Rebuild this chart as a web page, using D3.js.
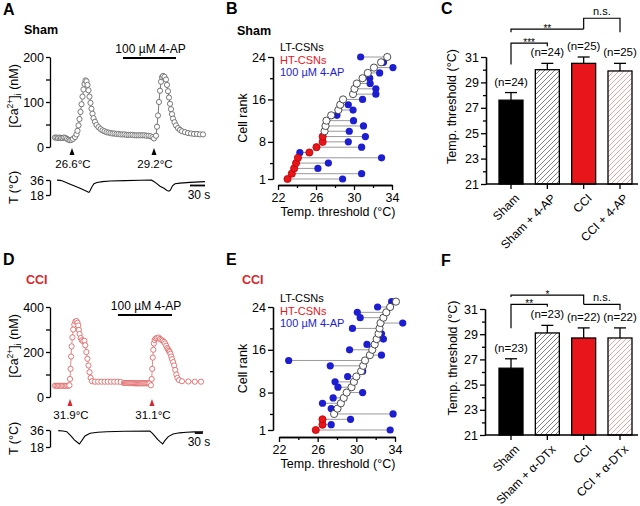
<!DOCTYPE html>
<html>
<head>
<meta charset="utf-8">
<script src="https://cdn.jsdelivr.net/npm/d3@7"></script>
<style>
  body { margin: 0; background: #fff; }
</style>
</head>
<body>
<script>
// ---------- data ----------
// panel A: [Ca2+]i trace, sham cell  [time s, nM]
var caA = [[0,21],[3,21],[6,20],[9,21],[12,20],[15,20],[18,21],[21,20],[24,18],[27,16],[30,15],[33,16],[36,18],
  [40,22],[43,28],[45,36],[47,48],[49,62],[51,78],[53,95],[55,112],[57,128],[59,140],[61,148],
  [63,146],[65,138],[67,126],[69,112],[71,98],[73,85],[75,74],[77,64],[80,56],[83,49],[87,44],[91,40],[95,37],
  [99,35],[103,33],[107,32],[111,31],[115,30],[119,30],[123,29],[127,29],[131,28],[135,28],[139,28],[143,27],
  [147,27],[151,27],[155,27],[159,26],[163,26],[167,26],[171,26],[175,26],[179,26],[183,25],[187,25],[191,24],
  [195,22],[198,19],
  [202,25],[204,45],[206,70],[208,100],[210,125],[212,145],[214,155],[216,158],[219,156],[222,150],[224,138],
  [226,124],[228,110],[230,96],[232,84],[234,73],[236,63],[239,55],[242,48],[246,42],[250,38],[254,35],[260,33],
  [266,31],[272,30],[278,29],[284,29],[290,28],[296,28]];
// panel A: bath temperature [time s, degC]
var tempA = [[4,35.8],[10,35.5],[14,35],[20,33.5],[28,31.5],[38,29],[50,26],[60,23.5],[66,21.5],[68,21.2],
  [70,23],[74,28],[78,31.5],[84,33],[95,34],[110,34.8],[140,35.3],[170,35.7],[193,35.8],[197,34.5],[203,32],
  [210,28.5],[218,26],[224,23.5],[228,22.6],[231,24],[235,29],[240,31.5],[250,32.3],[270,33.2],[290,33.8],[300,34]];
var thrTimeA = [34, 198];
var thrLabelA = ["26.6°C", "29.2°C"];
var apTimeA = [136, 242];

// panel D: [Ca2+]i trace, CCI cell
var caD = [[0,50],[5,50],[10,49],[15,50],[20,50],[25,49],[30,50],[35,50],[40,49],[45,50],[50,50],[54,52],
  [56,80],[58,125],[60,180],[62,225],[65,265],[68,300],[72,322],[76,335],[80,338],[84,330],[87,318],[89,298],
  [92,280],[96,262],[100,252],[105,248],[110,250],[113,230],[117,200],[121,170],[125,140],[129,110],[133,85],
  [138,70],[149,68],[161,68],[173,68],[185,68],[197,68],[209,68],[221,68],[233,68],[245,67],
  [257,62],[261,62],[265,62],[269,62],[273,62],[277,62],[281,62],[285,62],[289,62],[293,62],[297,61],[301,61],
  [305,61],[309,61],[313,61],[317,61],[321,61],[325,61],[329,61],[333,61],[337,61],[341,61],[345,61],[349,61],
  [353,60],[358,52],
  [361,80],[363,125],[365,175],[367,210],[369,238],[372,253],[376,260],[381,262],[387,264],[392,258],[397,254],
  [402,250],[407,245],[411,238],[415,228],[419,218],[422,212],[425,205],[428,200],[431,192],[434,180],[437,168],
  [441,155],[445,140],[449,120],[453,100],[457,85],[463,75],[474,70],[498,69],[522,68],[545,68]];
var tempD = [[12,35.3],[30,35],[44,34.2],[52,32],[62,29],[72,25.5],[81,23.6],[91,21.2],[100,24.7],[112,29.6],
  [131,32.5],[160,33.6],[193,34.2],[260,34.6],[354,34.9],[362,33],[373,29.6],[383,26],[392,23.6],[402,21.2],
  [410,24.7],[423,29],[441,31.8],[465,33],[491,33.6],[520,34],[553,34.2]];
var thrTimeD = [56, 362];
var thrLabelD = ["31.9°C", "31.1°C"];
var apTimeD = [235, 437];

// panel B: sham cells, threshold by rank (control, then with 4-AP)
var shamCtrl = [23.0,23.45,23.7,23.9,24.1,25.3,26.05,26.7,26.7,26.9,27.0,27.1,27.6,28.35,28.55,28.85,29.9,30.05,
  30.3,30.9,31.45,32.1,32.85,33.5];
var shamAP = [28.8,30.8,26.2,27.3,32.9,24.3,30.8,29.4,31.2,29.5,31.0,29.95,28.2,29.9,29.4,30.9,32.3,32.3,31.7,
  31.65,32.7,34.1,33.1,30.7];
var shamHT = 9;

// panel E: CCI cells
var cciCtrl = [25.8,26.5,26.5,27.7,28.05,28.4,28.7,29.0,29.5,29.75,30.0,30.5,30.7,30.9,31.4,31.65,31.9,32.1,
  32.3,32.4,32.5,32.8,33.1,33.5,34.1];
var cciAP = [33.5,27.4,29.4,33.8,27.4,26.5,27.6,30.65,28.1,27.8,29.1,30.65,27.3,23.0,32.6,29.3,31.1,32.8,32.6,
  29.6,34.8,30.4,30.1,32.2,33.65];
var cciHT = 3;

// panel C / F: mean thresholds
var groupsC = ["Sham", "Sham + 4-AP", "CCI", "CCI + 4-AP"];
var meanC = [27.6, 30.0, 30.5, 29.9];
var semC = [0.6, 0.5, 0.5, 0.6];
var nC = [24, 24, 25, 25];

var groupsF = ["Sham", "Sham + α-DTx", "CCI", "CCI + α-DTx"];
var meanF = [26.3, 29.1, 28.7, 28.7];
var semF = [0.75, 0.6, 0.8, 0.8];
var nF = [23, 23, 22, 22];

var legendNames = ["LT-CSNs", "HT-CSNs", "100 µM 4-AP"];
var rankTicks = [1, 8, 16, 24];
var rankMinor = [4, 12, 20];
var tempTicks = [22, 26, 30, 34];
var tempMinor = [24, 28, 32];
var thrTicks = [21, 23, 25, 27, 29, 31];
var thrMinor = [22, 24, 26, 28, 30];

// ---------- drawing ----------
var RED = "#e8161b", BLUE = "#1d1dd2";
var FONT = "'Liberation Sans', Arial, Helvetica, sans-serif";

var svg = d3.select("body").append("svg")
  .attr("width", 640).attr("height", 506)
  .style("font-family", FONT);
svg.append("rect").attr("width", 640).attr("height", 506).attr("fill", "#fff");

var defs = svg.append("defs");
function hatch(id, color) {
  defs.append("pattern").attr("id", id).attr("patternUnits", "userSpaceOnUse")
    .attr("width", 5).attr("height", 5)
    .append("path").attr("d", "M-1,1 l2,-2 M0,5 l5,-5 M4,6 l2,-2")
    .attr("stroke", color).attr("stroke-width", 0.9);
}
hatch("hatchGray", "#707070");
hatch("hatchPink", "#e69a9a");

function text(g, x, y, s, size, opt) {
  opt = opt || {};
  return g.append("text").attr("x", x).attr("y", y)
    .attr("font-size", size)
    .attr("font-weight", opt.bold ? "bold" : null)
    .attr("fill", opt.color || "#000")
    .attr("text-anchor", opt.anchor || "start")
    .text(s);
}

function styleAxis(a, size) {
  a.attr("font-family", FONT).attr("font-size", size);
  a.selectAll("path.domain").attr("stroke", "#000").attr("stroke-width", 1.3);
  a.selectAll(".tick line").attr("stroke", "#000").attr("stroke-width", 1.3);
  a.selectAll(".tick text").attr("fill", "#000");
}

// panel letters and titles
text(svg, 3, 15, "A", 16, {bold: true});
text(svg, 226, 14, "B", 16, {bold: true});
text(svg, 441, 14, "C", 16, {bold: true});
text(svg, 3, 265, "D", 16, {bold: true});
text(svg, 226, 265, "E", 16, {bold: true});
text(svg, 441, 266, "F", 16, {bold: true});
text(svg, 24, 34, "Sham", 12.5, {bold: true});
text(svg, 237, 35, "Sham", 12.5, {bold: true});
text(svg, 26, 284, "CCI", 12.5, {bold: true, color: "#d8262b"});
text(svg, 242, 284, "CCI", 12.5, {bold: true, color: "#d8262b"});

// ----- calcium traces (A, D) -----
function tracePanel(ca, temp, thrT, thrL, apT, o) {
  var g = svg.append("g");
  var x = d3.scaleLinear().domain(o.tDom).range([55, 205]);
  var y = d3.scaleLinear().domain([0, o.caMax]).range([o.y0, o.y0 - 90]);
  var yT = d3.scaleLinear().domain([18, 36]).range([o.t18, o.t36]);

  var ay = g.append("g").attr("transform", "translate(50,0)")
    .call(d3.axisLeft(y).tickValues(o.caTicks).tickSize(4).tickSizeOuter(0).tickPadding(2)
      .tickFormat(function(d) { return o.caLabels.indexOf(d) >= 0 ? d : ""; }));
  styleAxis(ay, 12.5);

  var line = d3.line().x(function(d) { return x(d[0]); }).y(function(d) { return y(d[1]); });
  g.append("path").datum(ca).attr("d", line).attr("fill", "none")
    .attr("stroke", o.lineColor).attr("stroke-width", 0.8);
  g.selectAll("circle.ca").data(ca).enter().append("circle")
    .attr("cx", function(d) { return x(d[0]); })
    .attr("cy", function(d) { return y(d[1]); })
    .attr("r", 2.6).attr("fill", "#fff")
    .attr("stroke", o.dotColor).attr("stroke-width", 0.9);

  // 4-AP application bar
  g.append("line").attr("x1", x(apT[0])).attr("x2", x(apT[1]))
    .attr("y1", o.barY).attr("y2", o.barY).attr("stroke", "#000").attr("stroke-width", 1.8);
  text(g, (x(apT[0]) + x(apT[1])) / 2 + 1, o.barY - 5, "100 µM 4-AP", 12, {anchor: "middle"});

  // threshold arrowheads
  thrT.forEach(function(t, i) {
    var px = x(t);
    g.append("path")
      .attr("d", "M" + px + "," + o.tip + "L" + (px - 2.5) + "," + (o.tip + 7) + "L" + (px + 2.5) + "," + (o.tip + 7) + "Z")
      .attr("fill", o.arrowColor);
    text(g, px + 1, o.tip + 20, thrL[i], 11.5, {anchor: "middle"});
  });

  // temperature trace
  var at = g.append("g").attr("transform", "translate(50,0)")
    .call(d3.axisLeft(yT).tickValues([18, 36]).tickSize(4).tickSizeOuter(0).tickPadding(2));
  styleAxis(at, 12.5);
  g.append("path").datum(temp)
    .attr("d", d3.line().x(function(d) { return x(d[0]); }).y(function(d) { return yT(d[1]); }))
    .attr("fill", "none").attr("stroke", "#000").attr("stroke-width", 1.1);

  // 30 s scale bar
  g.append("line").attr("x1", x(o.sb)).attr("x2", x(o.sb + 30))
    .attr("y1", o.sbY).attr("y2", o.sbY).attr("stroke", "#000").attr("stroke-width", 1.8);
  text(g, 199, o.sbY + 13, "30 s", 12, {anchor: "middle"});

  // axis titles
  var yl = g.append("text").attr("transform", "translate(18," + (o.y0 - 51) + ") rotate(-90)")
    .attr("text-anchor", "middle").attr("font-size", 12.5);
  yl.append("tspan").text("[Ca");
  yl.append("tspan").attr("dy", -5).attr("font-size", 8.5).text("2+");
  yl.append("tspan").attr("dy", 5).text("]");
  yl.append("tspan").attr("dy", 3).attr("font-size", 8.5).text("i");
  yl.append("tspan").attr("dy", -3).text(" (nM)");
  g.append("text").attr("transform", "translate(18," + ((o.t18 + o.t36) / 2) + ") rotate(-90)")
    .attr("text-anchor", "middle").attr("font-size", 12.5).text("T (°C)");
}

tracePanel(caA, tempA, thrTimeA, thrLabelA, apTimeA, {
  tDom: [0, 300], caMax: 200, y0: 147, caTicks: [0, 50, 100, 150, 200], caLabels: [0, 100, 200],
  t18: 195, t36: 180, lineColor: "#555", dotColor: "#6b6b6b", arrowColor: "#000",
  barY: 58, tip: 148, sb: 270, sbY: 185.5
});
tracePanel(caD, tempD, thrTimeD, thrLabelD, apTimeD, {
  tDom: [0, 560], caMax: 400, y0: 397, caTicks: [0, 100, 200, 300, 400], caLabels: [0, 200, 400],
  t18: 447, t36: 430, lineColor: "#e06a6a", dotColor: "#e06a6a", arrowColor: "#d8262b",
  barY: 315, tip: 399, sb: 522, sbY: 433
});

// ----- rank plots (B, E) -----
function rankPanel(ctrl, ap, nHT, o) {
  var g = svg.append("g");
  var x = d3.scaleLinear().domain([22, 34]).range(o.xr);
  var y = d3.scaleLinear().domain([1, 24]).range(o.yr);

  var ym = g.append("g").attr("transform", "translate(" + o.yAxisX + ",0)")
    .call(d3.axisLeft(y).tickValues(rankMinor).tickSize(3).tickSizeOuter(0).tickFormat(""));
  styleAxis(ym, 12.5);
  var yM = g.append("g").attr("transform", "translate(" + o.yAxisX + ",0)")
    .call(d3.axisLeft(y).tickValues(rankTicks).tickSize(5).tickSizeOuter(0).tickPadding(2));
  styleAxis(yM, 12.5);
  var xm = g.append("g").attr("transform", "translate(0," + o.xAxisY + ")")
    .call(d3.axisBottom(x).tickValues(tempMinor).tickSize(3).tickSizeOuter(0).tickFormat(""));
  styleAxis(xm, 12.5);
  var xM = g.append("g").attr("transform", "translate(0," + o.xAxisY + ")")
    .call(d3.axisBottom(x).tickValues(tempTicks).tickSize(5).tickSizeOuter(0).tickPadding(3));
  styleAxis(xM, 12.5);

  g.selectAll("line.link").data(ctrl).enter().append("line")
    .attr("x1", function(d) { return x(d); })
    .attr("x2", function(d, i) { return x(ap[i]); })
    .attr("y1", function(d, i) { return y(i + 1); })
    .attr("y2", function(d, i) { return y(i + 1); })
    .attr("stroke", "#9a9a9a").attr("stroke-width", 1);
  g.selectAll("circle.ap").data(ap).enter().append("circle")
    .attr("cx", function(d) { return x(d); })
    .attr("cy", function(d, i) { return y(i + 1); })
    .attr("r", 3.6).attr("fill", BLUE);
  g.selectAll("circle.ctrl").data(ctrl).enter().append("circle")
    .attr("cx", function(d) { return x(d); })
    .attr("cy", function(d, i) { return y(i + 1); })
    .attr("r", 3.6)
    .attr("fill", function(d, i) { return i < nHT ? RED : "#fff"; })
    .attr("stroke", function(d, i) { return i < nHT ? "#b00" : "#222"; })
    .attr("stroke-width", 0.8);

  // legend
  var legColors = ["#000", RED, BLUE];
  legendNames.forEach(function(n, i) {
    text(g, 280, o.legY + i * 12.5, n, 11, {color: legColors[i]});
  });

  g.append("text").attr("transform", "translate(247," + ((y(1) + y(24)) / 2) + ") rotate(-90)")
    .attr("text-anchor", "middle").attr("font-size", 12.5).text("Cell rank");
  text(g, 338, o.xAxisY + 31, "Temp. threshold (°C)", 12.5, {anchor: "middle"});
}

rankPanel(shamCtrl, shamAP, shamHT, {xr: [278, 392], yr: [179, 57], yAxisX: 273, xAxisY: 185, legY: 51});
rankPanel(cciCtrl, cciAP, cciHT, {xr: [279, 395], yr: [430, 307], yAxisX: 273, xAxisY: 437, legY: 302});

// ----- bar charts (C, F) -----
var barFills = ["#000", "url(#hatchGray)", RED, "url(#hatchPink)"];

function barPanel(names, means, sems, ns, brackets, o) {
  var g = svg.append("g");
  var y = d3.scaleLinear().domain([21, 31]).range([o.y21, o.y31]);
  var x = d3.scalePoint().domain(names).range([511, 620]);

  var ym = g.append("g").attr("transform", "translate(" + o.yAxisX + ",0)")
    .call(d3.axisLeft(y).tickValues(thrMinor).tickSize(3).tickSizeOuter(0).tickFormat(""));
  styleAxis(ym, 12.5);
  var yM = g.append("g").attr("transform", "translate(" + o.yAxisX + ",0)")
    .call(d3.axisLeft(y).tickValues(thrTicks).tickSize(5).tickSizeOuter(0).tickPadding(2));
  styleAxis(yM, 12.5);

  g.selectAll("rect.bar").data(means).enter().append("rect")
    .attr("x", function(d, i) { return x(names[i]) - 12; })
    .attr("y", function(d) { return y(d); })
    .attr("width", 24)
    .attr("height", function(d) { return y(21) - y(d); })
    .attr("fill", function(d, i) { return barFills[i]; })
    .attr("stroke", "#000").attr("stroke-width", 1.3);
  // error bars
  means.forEach(function(m, i) {
    var cx = x(names[i]);
    g.append("line").attr("x1", cx).attr("x2", cx).attr("y1", y(m)).attr("y2", y(m + sems[i]))
      .attr("stroke", "#000").attr("stroke-width", 1.3);
    g.append("line").attr("x1", cx - 6).attr("x2", cx + 6).attr("y1", y(m + sems[i])).attr("y2", y(m + sems[i]))
      .attr("stroke", "#000").attr("stroke-width", 1.3);
    text(g, cx, y(m + sems[i]) - 7, "(n=" + ns[i] + ")", 11.5, {anchor: "middle"});
  });

  // x axis with category ticks
  g.append("line").attr("x1", o.yAxisX).attr("x2", 638).attr("y1", y(21)).attr("y2", y(21))
    .attr("stroke", "#000").attr("stroke-width", 1.3);
  names.forEach(function(n) {
    var cx = x(n);
    g.append("line").attr("x1", cx).attr("x2", cx).attr("y1", y(21)).attr("y2", y(21) + 5)
      .attr("stroke", "#000").attr("stroke-width", 1.3);
    g.append("text").attr("transform", "translate(" + (cx + 9) + "," + (y(21) + 15) + ") rotate(-45)")
      .attr("text-anchor", "end").attr("font-size", 12).text(n);
  });

  // significance brackets
  brackets.forEach(function(b) {
    var xa = x(names[b.a]), xb = x(names[b.b]), yl = y(b.level);
    g.append("path")
      .attr("d", "M" + xa + "," + y(b.endA) + "V" + yl + "H" + xb + "V" + y(b.endB))
      .attr("fill", "none").attr("stroke", "#000").attr("stroke-width", 1.2);
    var star = b.label.indexOf("*") >= 0;
    text(g, (xa + xb) / 2, star ? yl + 2.5 : yl - 3, b.label, star ? 10 : 11, {anchor: "middle"});
  });

  g.append("text").attr("transform", "translate(" + o.titleX + "," + ((y(21) + y(31)) / 2 - 14) + ") rotate(-90)")
    .attr("text-anchor", "middle").attr("font-size", 12.5).text("Temp. threshold (°C)");
}

barPanel(groupsC, meanC, semC, nC, [
  {a: 0, b: 1, level: 32.1, endA: 30.4, endB: 31.85, label: "***"},
  {a: 0, b: 2, level: 33.2, endA: 32.95, endB: 33.2, label: "**"},
  {a: 2, b: 3, level: 34.05, endA: 33.2, endB: 32.95, label: "n.s."}
], {y21: 184, y31: 57, yAxisX: 486, titleX: 456});

barPanel(groupsF, meanF, semF, nF, [
  {a: 0, b: 2, level: 32.1, endA: 31.95, endB: 31.37, label: "*"},
  {a: 0, b: 1, level: 31.37, endA: 29.47, endB: 31.18, label: "**"},
  {a: 2, b: 3, level: 31.37, endA: 31.37, endB: 30.92, label: "n.s."}
], {y21: 435, y31: 309, yAxisX: 485, titleX: 457});
</script>
</body>
</html>
